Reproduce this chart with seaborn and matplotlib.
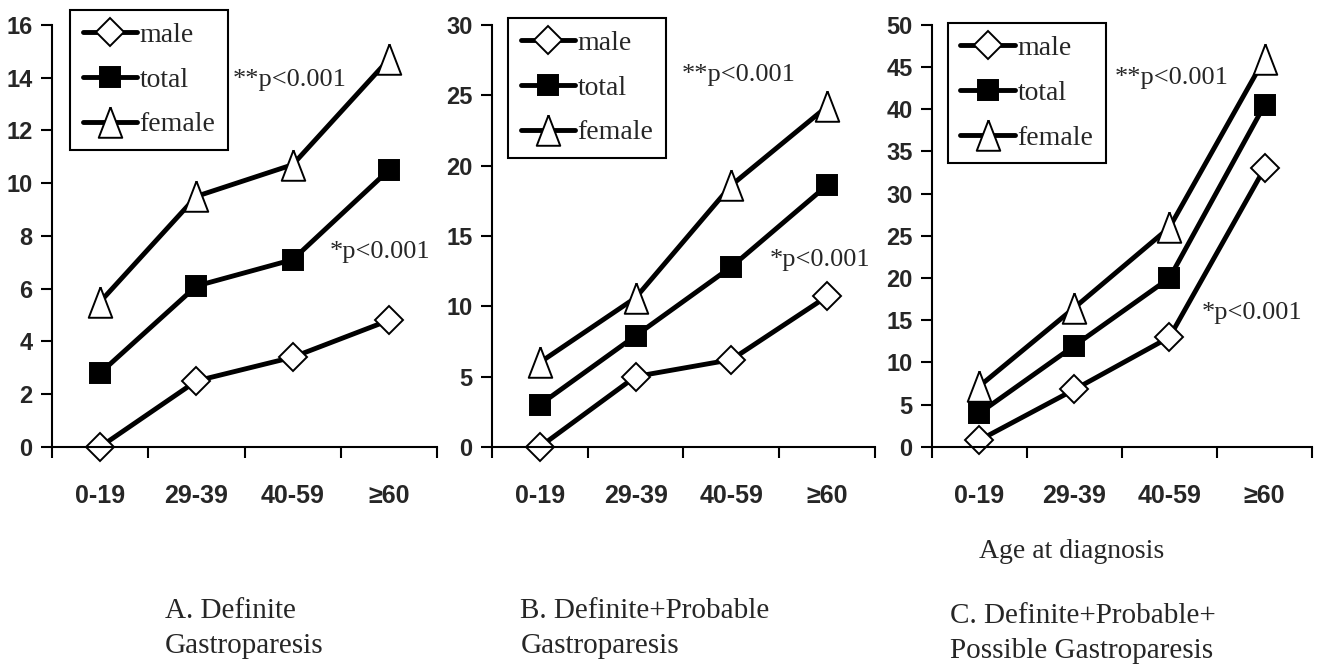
import pandas as pd
import matplotlib
matplotlib.use("Agg")
import matplotlib.pyplot as plt
import seaborn as sns

# --- Data ---
ages = ["0-19", "29-39", "40-59", "≥60"]

male_a = [0.0, 2.5, 3.4, 4.8]
total_a = [2.8, 6.1, 7.1, 10.5]
female_a = [5.5, 9.5, 10.7, 14.7]

male_b = [0.0, 5.0, 6.2, 10.7]
total_b = [3.0, 7.9, 12.8, 18.6]
female_b = [6.0, 10.6, 18.6, 24.2]

male_c = [0.8, 6.8, 13.0, 33.0]
total_c = [4.0, 12.0, 20.0, 40.5]
female_c = [7.2, 16.5, 26.0, 46.0]

captions = ["A. Definite\nGastroparesis",
            "B. Definite+Probable\nGastroparesis",
            "C. Definite+Probable+\nPossible Gastroparesis"]

sns.set_style("white")
plt.rcParams['font.family'] = ['Liberation Serif', 'DejaVu Serif']
tick_font = ['Liberation Sans Narrow', 'Liberation Sans', 'DejaVu Sans']

panels = [
    dict(male=male_a, total=total_a, female=female_a, ymax=16, step=2,
         rect=[0.0394, 0.327, 0.2915, 0.6355], leg=(0.047, 1.036),
         p2=(0.468, 0.870), p1=(0.722, 0.462)),
    dict(male=male_b, total=total_b, female=female_b, ymax=30, step=5,
         rect=[0.3724, 0.327, 0.2900, 0.6355], leg=(0.042, 1.017),
         p2=(0.496, 0.882), p1=(0.726, 0.443)),
    dict(male=male_c, total=total_c, female=female_c, ymax=50, step=5,
         rect=[0.7055, 0.327, 0.2877, 0.6355], leg=(0.042, 1.005),
         p2=(0.482, 0.874), p1=(0.711, 0.318)),
]

# tall open triangle like the original
tri = [(0, 1.3), (-1, -1.3), (1, -1.3), (0, 1.3)]

# name, marker, face colour, size
series = [("male", "D", "white", 14.5),
          ("total", "s", "black", 14.5),
          ("female", tri, "white", 22)]

fig = plt.figure(figsize=(13.21, 6.64), dpi=100)

for p in panels:
    ax = fig.add_axes(p["rect"])
    for name, mk, fc, ms in series:
        df = pd.DataFrame({"age": ages, "rate": p[name]})
        sns.lineplot(data=df, x="age", y="rate", ax=ax, sort=False,
                     color="black", linewidth=3.5, marker=mk, markersize=ms,
                     markerfacecolor=fc, markeredgecolor="black",
                     markeredgewidth=1.4, label=name, clip_on=False)

    ax.set_xlim(-0.5, 3.5)
    ax.set_ylim(0, p["ymax"])
    ax.set_yticks(range(0, p["ymax"] + 1, p["step"]))
    ax.set_xticks(range(len(ages)))
    ax.set_xticklabels(ages)
    ax.set_xticks([-0.5, 0.5, 1.5, 2.5, 3.5], minor=True)
    ax.set_xlabel("")
    ax.set_ylabel("")
    for lab in ax.get_xticklabels() + ax.get_yticklabels():
        lab.set_family(tick_font)
        lab.set_fontweight("bold")
    for lab in ax.get_xticklabels():
        lab.set_fontsize(18)
    for lab in ax.get_yticklabels():
        lab.set_fontsize(17)

    ax.tick_params(axis="x", which="major", length=0, pad=27)
    ax.tick_params(axis="x", which="minor", length=8, width=1.5,
                   direction="out", bottom=True, color="black")
    ax.tick_params(axis="y", length=8, width=1.5, direction="out",
                   left=True, pad=6, color="black")
    for side in ["top", "right"]:
        ax.spines[side].set_visible(False)
    for side in ["left", "bottom"]:
        ax.spines[side].set_color("black")
        ax.spines[side].set_linewidth(1.5)

    leg = ax.legend(loc="upper left", bbox_to_anchor=p["leg"], frameon=True,
                    fancybox=False, edgecolor="black", framealpha=1,
                    fontsize=20, handlelength=1.95, handletextpad=0.1,
                    labelspacing=0.7, borderpad=0.45, borderaxespad=0)
    leg.get_frame().set_linewidth(1.5)

    ax.text(p["p2"][0], p["p2"][1], "**p<0.001", transform=ax.transAxes,
            fontsize=19, va="center", ha="left")
    ax.text(p["p1"][0], p["p1"][1], "*p<0.001", transform=ax.transAxes,
            fontsize=19, va="center", ha="left")

fig.text(0.8115, 0.170, "Age at diagnosis", fontsize=20, ha="center", va="center")
fig.text(0.125, 0.053, captions[0], fontsize=21, ha="left", va="center", linespacing=1.45)
fig.text(0.394, 0.053, captions[1], fontsize=21, ha="left", va="center", linespacing=1.45)
fig.text(0.719, 0.046, captions[2], fontsize=21, ha="left", va="center", linespacing=1.45)

fig.savefig("out.png", dpi=100, facecolor="white")
